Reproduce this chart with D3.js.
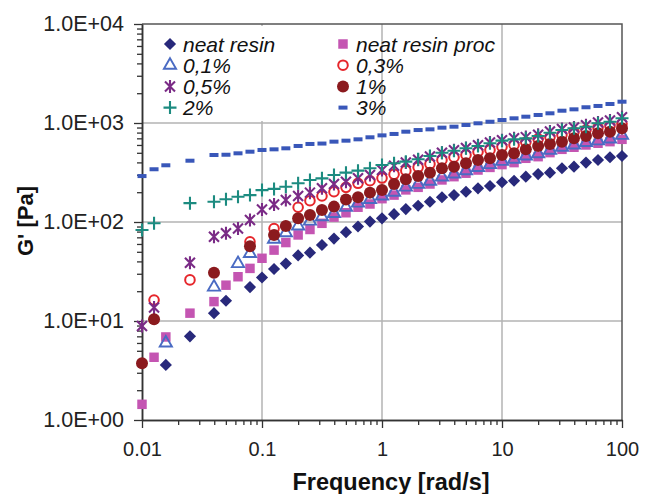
<!DOCTYPE html>
<html>
<head>
<meta charset="utf-8">
<script src="https://cdn.jsdelivr.net/npm/d3@7"></script>
<style>
  body { margin: 0; background: #fff; }
  text { font-family: "Liberation Sans", Arial, sans-serif; }
</style>
</head>
<body>
<div id="chart"></div>
<script>
//data
const freq = [0.01, 0.0126, 0.0158, 0.0251, 0.0398, 0.0501, 0.0631, 0.0794,
  0.1, 0.126, 0.158, 0.2, 0.251, 0.316, 0.398, 0.501, 0.631, 0.794,
  1, 1.26, 1.58, 2, 2.51, 3.16, 3.98, 5.01, 6.31, 7.94,
  10, 12.6, 15.8, 20, 25.1, 31.6, 39.8, 50.1, 63.1, 79.4, 100]

const neatResin = [null, null, 3.6, 7.0, 12, 16, null, 22, 27.5, 33.5, 38, 46, 49, 58.6, 68, 79, 90, 101,
  109, 120, 135, 146, 160, 178, 187, 202, 219, 231, 252, 261, 287, 305, 315, 349, 362, 398, 423, 451, 464]
const neatResinProc = [1.44, 4.3, 6.9, 12, 15.7, 23, 28, 34, 43, 52, 62, 74, 84, 97, 112, 124, 141, 152,
  172, 187, 211, 224, 242, 266, 287, 311, 335, 356, 380, 398, 440, 457, 502, 542, 569, 600, 624, 648, 684]
const p01 = [null, null, 6.0, null, 22, null, 38, 48, null, 67, 78, 91, 102, 113, 122, 141, 155, 169,
  183, 200, 225, 240, 258, 285, 305, 330, 355, 380, 410, 430, 465, 490, 530, 570, 600, 635, 660, 690, 750]
const p03 = [null, 16.3, null, 26, null, null, null, 63, null, 86, null, 141, 164, 183, 202, 224, 246, 261,
  278, 303, 330, 357, 385, 423, 451, 475, 513, 534, 576, 600, 640, 690, 720, 760, 810, 850, 900, 930, 980]
const p05 = [8.9, 13.7, null, 38.8, 71, 77, 86, 105, 134, 150, 167, 183, 198, 219, 242, 255, 276, 298,
  335, 370, 400, 425, 460, 500, 530, 560, 595, 635, 670, 700, 720, 760, 820, 870, 900, 950, 1010, 1060, 1140]
const p1 = [3.74, 10.4, null, null, 30.8, null, null, 57, null, 74, 91, 109, 118, 132, 143, 169, 178, 198,
  211, 242, 270, 291, 315, 349, 362, 392, 423, 440, 475, 494, 542, 586, 614, 648, 700, 739, 787, 817, 884]
const p2 = [83, 97, null, 155, 160, 170, 180, 187, 210, 216, 227, 246, 266, 276, 298, 315, 330, 349,
  377, 392, 407, 430, 464, 501, 525, 555, 586, 624, 663, 684, 700, 739, 798, 849, 884, 918, 993, 1030, 1115]
const p3 = [291, 341, 374, 416, 475, 478, 494, 513, 534, 542, 555, 586, 614, 620, 648, 663, 684, 717,
  750, 775, 817, 849, 863, 897, 918, 955, 993, 1030, 1072, 1115, 1158, 1205, 1253, 1331, 1374, 1442, 1486, 1556, 1641]

const seriesNames = ['neat resin', 'neat resin proc', '0,1%', '0,3%', '0,5%', '1%', '2%', '3%']
const seriesValues = [neatResin, neatResinProc, p01, p03, p05, p1, p2, p3]

const xTicks = [0.01, 0.1, 1, 10, 100]
const xTickLabels = ['0.01', '0.1', '1', '10', '100']
const yTicks = [1, 10, 100, 1000, 10000]
const yTickLabels = ['1.0E+00', '1.0E+01', '1.0E+02', '1.0E+03', '1.0E+04']

//marker styles, same order as the series
const styles = [
  {type: 'diamond', color: '#28297b'},
  {type: 'square', color: '#c455b2'},
  {type: 'triangle', color: '#4a6bc3'},
  {type: 'ring', color: '#e6262b'},
  {type: 'star', color: '#7a2b86'},
  {type: 'dot', color: '#8b1a1e'},
  {type: 'plus', color: '#1c8b80'},
  {type: 'dash', color: '#3957b9'},
]

//dimensions
const dimensions = {width: 647, height: 494, left: 142, right: 622, top: 24, bottom: 420}

const svg = d3.select('#chart')
  .append('svg')
  .attr('width', dimensions.width)
  .attr('height', dimensions.height)

//scales
const x = d3.scaleLog().domain([0.01, 100]).range([dimensions.left, dimensions.right])
const y = d3.scaleLog().domain([1, 10000]).range([dimensions.bottom, dimensions.top])

const minorX = []
const minorY = []
for (let d = 0.01; d < 100; d *= 10) for (let k = 2; k < 10; k++) minorX.push(+(d * k).toPrecision(3))
for (let d = 1; d < 10000; d *= 10) for (let k = 2; k < 10; k++) minorY.push(d * k)

//grid
const grid = svg.append('g').attr('stroke', '#b3b3b3').attr('stroke-width', 1.5)
grid.selectAll('.gx').data(xTicks.slice(1, -1)).join('line')
  .attr('x1', d => x(d)).attr('x2', d => x(d))
  .attr('y1', dimensions.top).attr('y2', dimensions.bottom)
grid.selectAll('.gy').data(yTicks.slice(1, -1)).join('line')
  .attr('y1', d => y(d)).attr('y2', d => y(d))
  .attr('x1', dimensions.left).attr('x2', dimensions.right)

//legend background hides grid behind it
svg.append('rect')
  .attr('x', 150).attr('y', dimensions.top + 2)
  .attr('width', 222).attr('height', y(1000) - dimensions.top - 4)
  .attr('fill', '#fff')

//frame top / right
svg.append('path')
  .attr('d', `M${dimensions.left},${dimensions.top}H${dimensions.right}V${dimensions.bottom}`)
  .attr('fill', 'none').attr('stroke', '#555').attr('stroke-width', 1.5)

//axes
function styleAxis(g, size) {
  g.select('.domain').attr('stroke', '#333').attr('stroke-width', 1.5)
  g.selectAll('.tick line').attr('stroke', '#333').attr('stroke-width', 1.3)
  g.selectAll('.tick text').attr('fill', '#222').attr('font-size', size)
}

svg.append('g')
  .attr('transform', `translate(0,${dimensions.bottom})`)
  .call(d3.axisBottom(x).tickValues(minorX).tickSize(5).tickFormat('').tickSizeOuter(0))
  .call(styleAxis, 20)
svg.append('g')
  .attr('transform', `translate(0,${dimensions.bottom})`)
  .call(d3.axisBottom(x).tickValues(xTicks).tickSize(8).tickPadding(14)
    .tickFormat((d, i) => xTickLabels[i]).tickSizeOuter(0))
  .call(styleAxis, 20)

svg.append('g')
  .attr('transform', `translate(${dimensions.left},0)`)
  .call(d3.axisLeft(y).tickValues(minorY).tickSize(5).tickFormat('').tickSizeOuter(0))
  .call(styleAxis, 21.5)
svg.append('g')
  .attr('transform', `translate(${dimensions.left},0)`)
  .call(d3.axisLeft(y).tickValues(yTicks).tickSize(8).tickPadding(10)
    .tickFormat((d, i) => yTickLabels[i]).tickSizeOuter(0))
  .call(styleAxis, 21.5)

//axis titles
svg.append('text')
  .attr('x', 391).attr('y', 490)
  .attr('text-anchor', 'middle')
  .attr('font-size', 23.5).attr('font-weight', 'bold').attr('fill', '#111')
  .text('Frequency [rad/s]')
svg.append('text')
  .attr('transform', 'translate(33,221) rotate(-90)')
  .attr('text-anchor', 'middle')
  .attr('font-size', 22).attr('font-weight', 'bold').attr('fill', '#111')
  .text("G' [Pa]")

//marker drawing
function drawMarker(g, type, color) {
  if (type === 'diamond') {
    g.append('path').attr('d', d3.symbol(d3.symbolSquare, 74)())
      .attr('transform', 'rotate(45)').attr('fill', color)
  } else if (type === 'square') {
    g.append('path').attr('d', d3.symbol(d3.symbolSquare, 90)()).attr('fill', color)
  } else if (type === 'triangle') {
    g.append('path').attr('d', d3.symbol(d3.symbolTriangle, 64)())
      .attr('fill', 'none').attr('stroke', color).attr('stroke-width', 1.9)
  } else if (type === 'ring') {
    g.append('circle').attr('r', 4.8)
      .attr('fill', 'none').attr('stroke', color).attr('stroke-width', 2)
  } else if (type === 'star') {
    g.append('path').attr('d', 'M-5,-5L5,5M-5,5L5,-5M0,-6.5V6.5')
      .attr('fill', 'none').attr('stroke', color).attr('stroke-width', 2.1)
  } else if (type === 'dot') {
    g.append('circle').attr('r', 6).attr('fill', color)
  } else if (type === 'plus') {
    g.append('path').attr('d', 'M-6.5,0H6.5M0,-6.5V6.5')
      .attr('fill', 'none').attr('stroke', color).attr('stroke-width', 2.1)
  } else if (type === 'dash') {
    g.append('rect').attr('x', -4.5).attr('y', -2).attr('width', 9).attr('height', 4)
      .attr('fill', color)
  }
}

//series
seriesValues.forEach((vals, s) => {
  const pts = freq.map((f, i) => ({f, v: vals[i]})).filter(d => d.v != null)
  svg.append('g').selectAll('g')
    .data(pts)
    .join('g')
    .attr('transform', d => `translate(${x(d.f)},${y(d.v)})`)
    .each(function () { drawMarker(d3.select(this), styles[s].type, styles[s].color) })
})

//legend
const legend = svg.append('g')
seriesNames.forEach((name, i) => {
  const col = i % 2
  const row = Math.floor(i / 2)
  const lx = col === 0 ? 170 : 343
  const ly = 44 + row * 21.2
  const g = legend.append('g').attr('transform', `translate(${lx},${ly})`)
  drawMarker(g, styles[i].type, styles[i].color)
  g.append('text')
    .attr('x', 13).attr('y', 7.5)
    .attr('font-size', 21).attr('font-style', 'italic').attr('fill', '#111')
    .text(name)
})
</script>
</body>
</html>
